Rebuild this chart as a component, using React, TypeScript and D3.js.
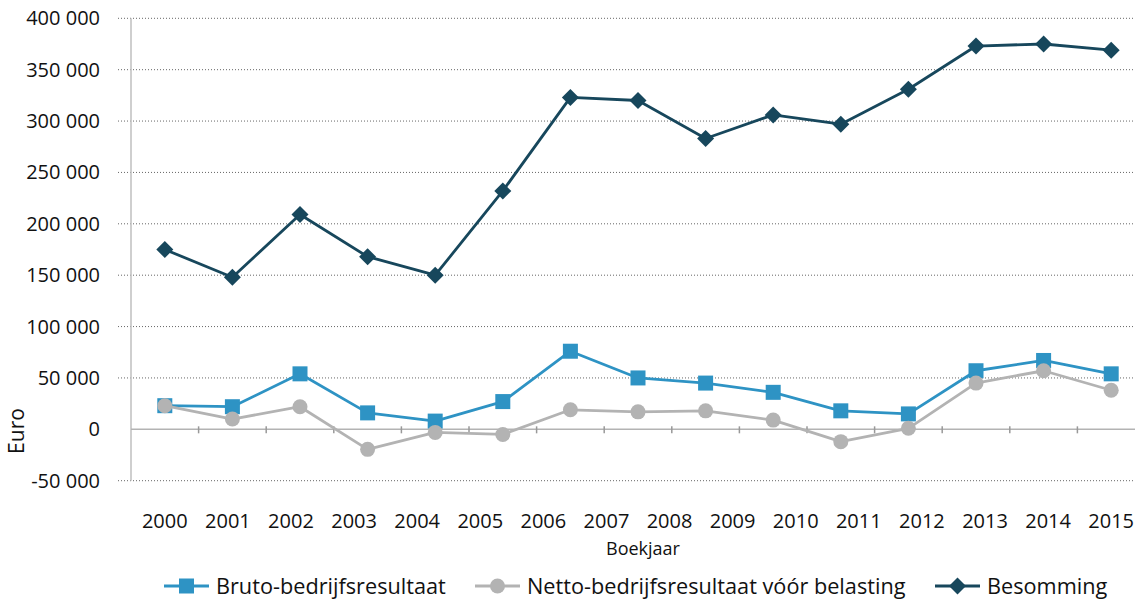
import * as d3 from "d3";

// tick labels on the category axis (16 labels, 15 data points as in the original)
const yearLabels = [
  "2000", "2001", "2002", "2003", "2004", "2005", "2006", "2007",
  "2008", "2009", "2010", "2011", "2012", "2013", "2014", "2015",
];

const bruto = [23000, 22000, 54000, 16000, 8000, 27000, 76000, 50000, 45000, 36000, 18000, 15000, 57000, 67000, 54000];
const netto = [23000, 10000, 22000, -19500, -3000, -5000, 19000, 17000, 18000, 9000, -12000, 1000, 45000, 57000, 38000];
const besomming = [175000, 148000, 209000, 168000, 150000, 232000, 323000, 320000, 283000, 306000, 297000, 331000, 373000, 375000, 369000];

const yTicks = [-50000, 0, 50000, 100000, 150000, 200000, 250000, 300000, 350000, 400000];

const seriesNames = ["Bruto-bedrijfsresultaat", "Netto-bedrijfsresultaat vóór belasting", "Besomming"];
const seriesColors = ["#2e93c4", "#b3b3b3", "#17475c"];

const W = 1135;
const H = 600;
const FONT = "'Open Sans', sans-serif";

const locale = d3.formatLocale({
  decimal: ",",
  thousands: " ",
  grouping: [3],
  currency: ["", ""],
  minus: "-",
});
const fmt = locale.format(",");

function Marker({ kind, x, y, color }: { kind: string; x: number; y: number; color: string }) {
  if (kind === "square") {
    return <rect x={x - 7.5} y={y - 7.5} width={15} height={15} fill={color} />;
  }
  if (kind === "circle") {
    return <circle cx={x} cy={y} r={7.5} fill={color} />;
  }
  const s = 8.5;
  return (
    <path
      d={`M${x},${y - s}L${x + s},${y}L${x},${y + s}L${x - s},${y}Z`}
      fill={color}
    />
  );
}

export default function App() {
  const idx = d3.range(besomming.length);

  const x = d3.scaleBand<number>().domain(idx).range([131, 131 + 67.6 * idx.length]);
  const cx = (i: number) => (x(i) ?? 0) + x.bandwidth() / 2;

  const xLab = d3
    .scalePoint<string>()
    .domain(yearLabels)
    .range([cx(0), cx(idx.length - 1)]);

  const y = d3.scaleLinear().domain([-50000, 400000]).range([480.7, 18.3]);

  const line = d3
    .line<number>()
    .x((_, i) => cx(i))
    .y((d) => y(d));

  const series = [
    { name: seriesNames[0], data: bruto, color: seriesColors[0], kind: "square" },
    { name: seriesNames[1], data: netto, color: seriesColors[1], kind: "circle" },
    { name: seriesNames[2], data: besomming, color: seriesColors[2], kind: "diamond" },
  ];

  const legendX = [164, 475, 935];

  return (
    <div style={{ position: "absolute", left: 0, top: 0 }}>
      <svg width={W} height={H} style={{ display: "block", background: "#fff" }}>
        {/* gridlines */}
        {yTicks
          .filter((t) => t !== 0)
          .map((t) => (
            <line
              key={t}
              x1={118}
              x2={W}
              y1={y(t)}
              y2={y(t)}
              stroke="#666"
              strokeWidth={1}
              strokeDasharray="1 2"
            />
          ))}

        {/* y axis */}
        <line x1={131} x2={131} y1={y(400000)} y2={y(-50000)} stroke="#bfbfbf" strokeWidth={1.5} />
        {yTicks.map((t) => (
          <text
            key={t}
            x={100}
            y={y(t)}
            dy="0.35em"
            textAnchor="end"
            fontFamily={FONT}
            fontSize={20}
            fill="#111"
          >
            {fmt(t)}
          </text>
        ))}

        {/* zero axis with ticks at band edges */}
        <line x1={131} x2={W} y1={y(0)} y2={y(0)} stroke="#b3b3b3" strokeWidth={1.5} />
        {idx.map((i) => (
          <line
            key={i}
            x1={(x(i) ?? 0) + x.bandwidth()}
            x2={(x(i) ?? 0) + x.bandwidth()}
            y1={y(0) - 3}
            y2={y(0) + 4}
            stroke="#999"
            strokeWidth={1.5}
          />
        ))}

        {/* category labels */}
        {yearLabels.map((l) => (
          <text
            key={l}
            x={xLab(l)}
            y={528}
            textAnchor="middle"
            fontFamily={FONT}
            fontSize={20}
            fill="#111"
          >
            {l}
          </text>
        ))}

        <text x={643} y={555} textAnchor="middle" fontFamily={FONT} fontSize={18} fill="#111">
          Boekjaar
        </text>
        <text
          transform={`translate(24,431) rotate(-90)`}
          textAnchor="middle"
          fontFamily={FONT}
          fontSize={21}
          fill="#111"
        >
          Euro
        </text>

        {/* series */}
        {series.map((s) => (
          <g key={s.name}>
            <path d={line(s.data) ?? ""} fill="none" stroke={s.color} strokeWidth={2.8} strokeLinejoin="round" />
            {s.data.map((d, i) => (
              <Marker key={i} kind={s.kind} x={cx(i)} y={y(d)} color={s.color} />
            ))}
          </g>
        ))}

        {/* legend */}
        {series.map((s, i) => (
          <g key={s.name} transform={`translate(${legendX[i]},586)`}>
            <line x1={0} x2={45} y1={0} y2={0} stroke={s.color} strokeWidth={2.8} />
            <Marker kind={s.kind} x={22.5} y={0} color={s.color} />
            <text x={52} y={0} dy="0.35em" fontFamily={FONT} fontSize={21.7} fill="#111">
              {s.name}
            </text>
          </g>
        ))}
      </svg>
    </div>
  );
}
